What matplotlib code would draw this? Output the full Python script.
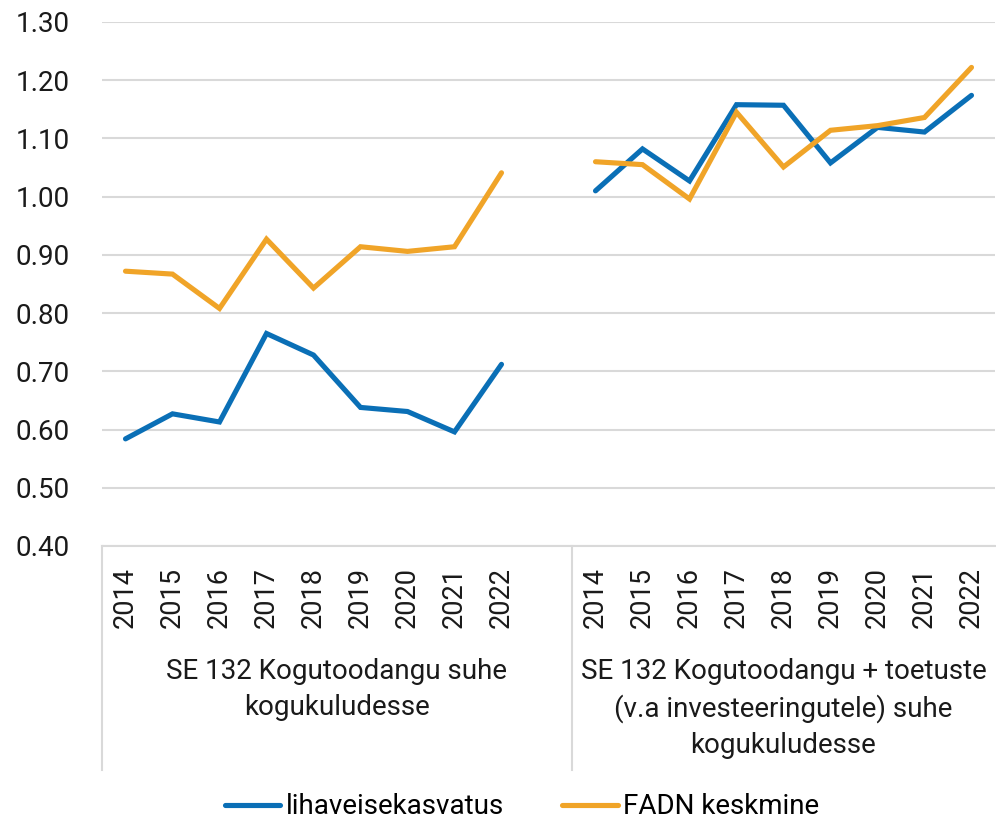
import matplotlib
matplotlib.use("Agg")
import matplotlib.pyplot as plt
from matplotlib.lines import Line2D

plt.rcParams['font.family'] = ['Roboto', 'DejaVu Sans']

years = ["2014", "2015", "2016", "2017", "2018", "2019", "2020", "2021", "2022"]
groups = ["SE 132 Kogutoodangu suhe\nkogukuludesse",
          "SE 132 Kogutoodangu + toetuste\n(v.a investeeringutele) suhe\nkogukuludesse"]
series_names = ["lihaveisekasvatus", "FADN keskmine"]

liha_g1 = [0.584, 0.627, 0.613, 0.765, 0.728, 0.638, 0.631, 0.596, 0.712]
fadn_g1 = [0.872, 0.867, 0.808, 0.927, 0.843, 0.914, 0.906, 0.914, 1.041]
liha_g2 = [1.010, 1.082, 1.027, 1.158, 1.157, 1.058, 1.119, 1.111, 1.174]
fadn_g2 = [1.060, 1.055, 0.996, 1.145, 1.051, 1.114, 1.122, 1.136, 1.222]

yticks = [0.40, 0.50, 0.60, 0.70, 0.80, 0.90, 1.00, 1.10, 1.20, 1.30]

BLUE = "#0a6fb6"
ORANGE = "#f0a428"
GRID = "#d9d9d9"
TXT = "#1a1a1a"

W, H = 996, 825
fig = plt.figure(figsize=(W / 100, H / 100), dpi=100)
L, R, T, B = 102, 995, 22, 546
ax = fig.add_axes([L / W, 1 - B / H, (R - L) / W, (B - T) / H])

n = len(years)
x1 = list(range(n))
x2 = [n + 1 + i for i in range(n)]

lw = 3.7
for xs, ys, c in ((x1, liha_g1, BLUE), (x1, fadn_g1, ORANGE),
                  (x2, liha_g2, BLUE), (x2, fadn_g2, ORANGE)):
    ax.plot(xs, ys, color=c, lw=lw, solid_capstyle='round', solid_joinstyle='miter')

ax.set_xlim(-0.5, 2 * n + 0.5)
ax.set_ylim(yticks[0], yticks[-1])
ax.set_yticks(yticks)
ax.set_yticklabels([f"{v:.2f}" for v in yticks], fontsize=20, color=TXT)
ax.tick_params(axis='y', length=0, pad=23)
ax.set_xticks([])
ax.grid(axis='y', color=GRID, lw=1.5)
ax.set_axisbelow(True)
for s in ["left", "right", "top"]:
    ax.spines[s].set_visible(False)
ax.spines["bottom"].set_color(GRID)
ax.spines["bottom"].set_linewidth(1.5)

ph = B - T
def ay(ypix):
    return (B - ypix) / ph

tr = ax.get_xaxis_transform()
for xs in (x1, x2):
    for xi, yr in zip(xs, years):
        ax.text(xi, ay(567), yr, rotation=90, ha='center', va='top',
                fontsize=19.5, color=TXT, transform=tr)

ax.text(4.5, ay(658), groups[0], ha='center', va='top', fontsize=20,
        linespacing=1.42, color=TXT, transform=tr)
ax.text(14.0, ay(658), groups[1], ha='center', va='top', fontsize=20,
        linespacing=1.42, color=TXT, transform=tr)

for xv in (-0.5, n + 0.5):
    ax.add_line(Line2D([xv, xv], [0, ay(770)], transform=tr, color=GRID,
                       lw=1.5, clip_on=False))

handles = [Line2D([], [], color=BLUE, lw=lw, solid_capstyle='round'),
           Line2D([], [], color=ORANGE, lw=lw, solid_capstyle='round')]
fig.legend(handles, series_names, loc='center', bbox_to_anchor=(522 / W, 1 - 807 / H),
           ncol=2, frameon=False, fontsize=20, handlelength=2.0, handletextpad=0.2,
           columnspacing=2.1, borderpad=0, borderaxespad=0)

fig.savefig("out.png", dpi=100)
